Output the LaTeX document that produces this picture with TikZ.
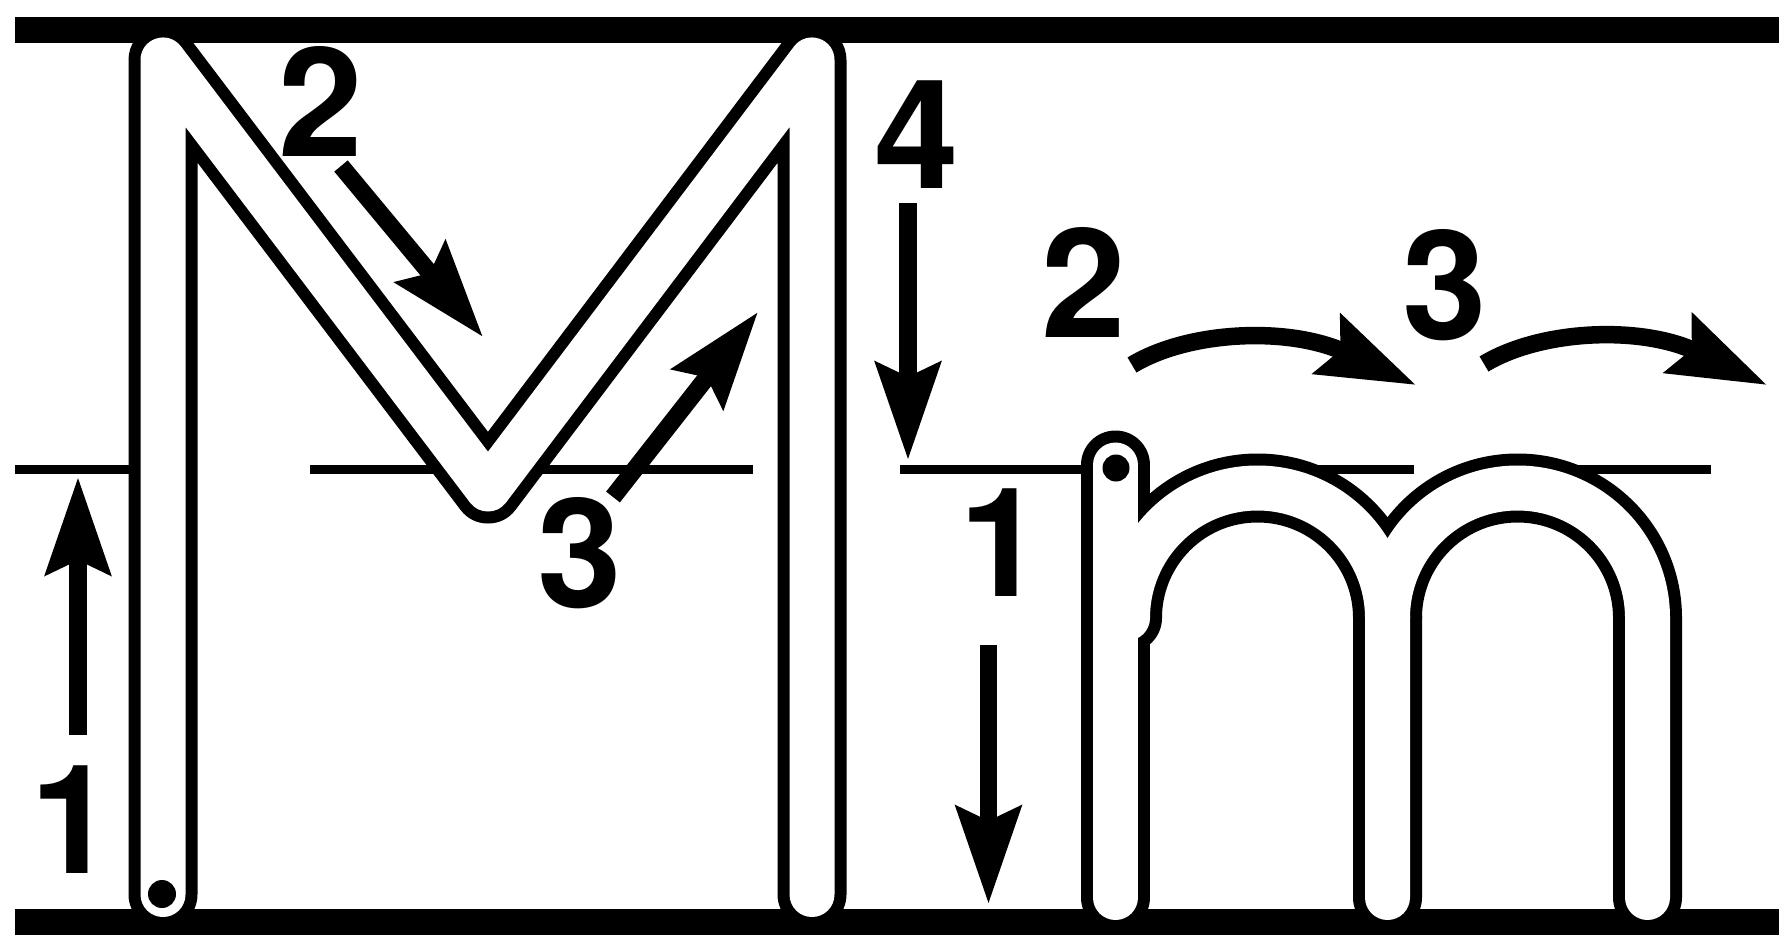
\documentclass[tikz,border=0pt]{standalone}
\usepackage{fontspec}
\setmainfont{TeX Gyre Heros}
\usetikzlibrary{arrows.meta}
\begin{document}
\begin{tikzpicture}[x=1pt,y=1pt,
  guide/.style={line width=26pt,black},
  midline/.style={line width=9.5pt,black},
  lettout/.style={line width=69pt,line cap=round,line join=round,black},
  lettin/.style={line width=45pt,line cap=round,line join=round,white},
  num/.style={font=\fontsize{152}{152}\bfseries\selectfont,inner sep=0pt,text=black},
  arr/.style={line width=17.5pt,black,-{Stealth[length=97pt,width=64pt,inset=14pt]}},
]
\useasboundingbox[fill=white] (0,0) rectangle (1779,-935);
% guide lines
\draw[guide] (15,-29.5) -- (1779,-29.5);
\draw[guide] (15,-921.5) -- (1779,-921.5);
\draw[midline] (15,-469.5) -- (150,-469.5);
\draw[midline] (310,-469.5) -- (753,-469.5);
\draw[midline] (900,-469.5) -- (1100,-469.5);
\draw[midline] (1290,-469.5) -- (1414,-469.5);
\draw[midline] (1500,-469.5) -- (1711,-469.5);
% letter outlines (black)
\draw[lettout] (163,-894.5) -- (163,-60) -- (488,-489) -- (812,-60) -- (812,-894.5);
\draw[lettout] (1115.5,-897.5) -- (1115.5,-465);
\draw[lettout] (1127.5,-612) -- (1127.5,-618) arc[start angle=180,end angle=0,radius=130] -- (1387.5,-897.5);
\draw[lettout] (1387.5,-618) arc[start angle=180,end angle=0,radius=130] -- (1647.5,-897.5);
% letter interiors (white)
\draw[lettin] (163,-894.5) -- (163,-60) -- (488,-489) -- (812,-60) -- (812,-894.5);
\draw[lettin] (1115.5,-897.5) -- (1115.5,-465);
\draw[lettin] (1127.5,-612) -- (1127.5,-618) arc[start angle=180,end angle=0,radius=130] -- (1387.5,-897.5);
\draw[lettin] (1387.5,-618) arc[start angle=180,end angle=0,radius=130] -- (1647.5,-897.5);
% start dots
\fill[black] (162,-894) circle[radius=14];
\fill[black] (1116,-468) circle[radius=13.5];
% arrows
\coordinate (a1s) at (78,-735);   \coordinate (a1e) at (78,-477);
\coordinate (a2s) at (341,-166);  \coordinate (a2e) at (483,-337);
\coordinate (a3s) at (613,-497);  \coordinate (a3e) at (758,-312);
\coordinate (a4s) at (908,-203);  \coordinate (a4e) at (908,-460);
\coordinate (b1s) at (988.5,-645); \coordinate (b1e) at (988.5,-904);
\coordinate (b2s) at (1132,-365); \coordinate (b2e) at (1416,-385);
\coordinate (b3s) at (1484,-364); \coordinate (b3e) at (1767,-385);
\draw[arr] (a1s) -- (a1e);
\draw[arr] (a2s) -- (a2e);
\draw[arr] (a3s) -- (a3e);
\draw[arr] (a4s) -- (a4e);
\draw[arr] (b1s) -- (b1e);
\draw[arr] (b2s) .. controls (1188,-331) and (1288,-326) .. (b2e);
\draw[arr] (b3s) .. controls (1540,-330) and (1640,-325) .. (b3e);
% numbers
\node[num] (nM1) at (73,-820) {1};
\node[num] (nM2) at (320.5,-101) {2};
\node[num] (nM3) at (580,-553) {3};
\node[num] (nM4) at (917,-135) {4};
\node[num] (nm1) at (1002,-543) {1};
\node[num] (nm2) at (1084,-282.5) {2};
\node[num] (nm3) at (1445,-285) {3};
\end{tikzpicture}
\end{document}
